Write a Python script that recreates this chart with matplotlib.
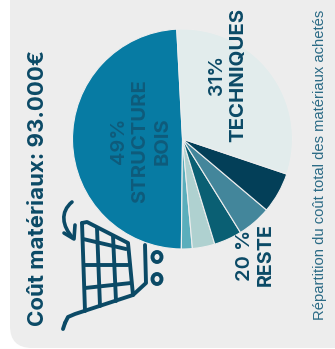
import matplotlib
matplotlib.use("Agg")
import matplotlib.pyplot as plt
import matplotlib.patches as mpatches
from matplotlib.path import Path

W, H = 335, 349

# share of material cost per group, counter-clockwise from the top
shares = [49, 1.6, 3.3, 4.1, 5.0, 6.0, 31]
colors = ['#077ba3', '#5aaebc', '#afd1d0', '#0a5f73', '#43869b', '#033f58', '#e2ecec']

title = "Coût matériaux: 93.000€"
caption = "Répartition du coût total des matériaux achetés"
dark = '#0b4a66'
HEAD = 'Inter'

fig = plt.figure(figsize=(W / 100, H / 100), dpi=100, facecolor='white')

# full figure layer in pixels, y going down
bg = fig.add_axes([0, 0, 1, 1])
bg.set_xlim(0, W)
bg.set_ylim(H, 0)
bg.axis('off')
panel = mpatches.FancyBboxPatch((10, -20), W + 40, 368, boxstyle="round,pad=0,rounding_size=22",
                                fc='#ededed', ec='none')
bg.add_patch(panel)

# pie
cx, cy, r = 182.5, 139, 110
ax = fig.add_axes([(cx - r) / W, (H - cy - r) / H, 2 * r / W, 2 * r / H])
ax.pie(shares, colors=colors, startangle=93, counterclock=True,
       wedgeprops=dict(edgecolor='#eeeeee', linewidth=0.8))
ax.set_xlim(-1, 1)
ax.set_ylim(-1, 1)
ax.patch.set_visible(False)

top = fig.add_axes([0, 0, 1, 1])
top.set_xlim(0, W)
top.set_ylim(H, 0)
top.axis('off')
top.patch.set_visible(False)


def vtext(x, y, s, size, color=dark, weight='bold', family=HEAD):
    top.text(x, y, s, rotation=90, ha='center', va='center', fontsize=size,
             color=color, fontweight=weight, family=family)


vtext(38.5, 187.5, title, 16)
vtext(119, 141, "49%", 14.5, color='#0f5b7b', weight='semibold')
vtext(140, 141, "STRUCTURE", 14.5, color='#0f5b7b')
vtext(163, 141, "BOIS", 14.5, color='#0f5b7b')
vtext(217, 75, "31%", 14, weight='semibold')
vtext(238, 75, "TECHNIQUES", 14.7)
vtext(245, 255, "20 %", 14.5, weight='semibold')
vtext(266, 255, "RESTE", 14.2)
vtext(320, 165, caption, 10.6, color='#2a6a85', weight='normal', family='Liberation Sans')


# shopping cart icon, coordinates in pixels
def stroke(pts, lw=2.8):
    xs = [p[0] for p in pts]
    ys = [p[1] for p in pts]
    top.plot(xs, ys, color=dark, lw=lw, solid_capstyle='round', solid_joinstyle='round')


stroke([(82, 223), (87, 222), (128, 243), (133, 295), (146, 283), (145, 245)])
stroke([(82, 223), (85, 311)])
stroke([(65, 323), (68, 317), (75, 314), (133, 295)])
stroke([(97, 228), (100, 306)])
stroke([(113, 236), (116, 301)])
stroke([(83, 239), (126, 249)])
stroke([(84, 265), (128, 265)])
stroke([(85, 288), (131, 283)])
stroke([(65, 323), (63, 329)])

for wy in (257, 279):
    top.add_patch(mpatches.Ellipse((157, wy), 9, 10, fc='none', ec=dark, lw=2.8))

# arrow above the cart
top.add_patch(mpatches.PathPatch(
    Path([(72, 202), (60, 212), (62, 226), (73, 238)], [1, 4, 4, 4]),
    fc='none', ec=dark, lw=2.6, capstyle='round'))
stroke([(64, 233), (74, 239), (75, 225)], lw=2.6)

fig.savefig('out.png', dpi=100, facecolor='white')
